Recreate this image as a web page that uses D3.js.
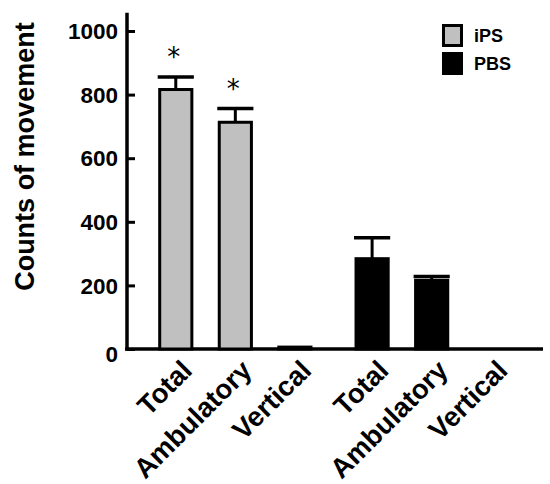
<!DOCTYPE html>
<html>
<head>
<meta charset="utf-8">
<script src="https://cdn.jsdelivr.net/npm/d3@7"></script>
<style>
  body { margin:0; background:#fff; }
  svg text { font-family: "Liberation Sans", Arial, sans-serif; }
</style>
</head>
<body>
<script>
const width = 550;
const height = 484;

const groups = ['iPS', 'PBS'];
const measures = ['Total', 'Ambulatory', 'Vertical'];
const ipsMeans = [816, 713, 6];
const ipsErrors = [39, 43, 0];
const pbsMeans = [284, 216, 0];
const pbsErrors = [66, 12, 0];
const significant = [true, true, false];
const yTicks = [0, 200, 400, 600, 800, 1000];
const fills = {iPS: '#c0c0c0', PBS: '#000'};

const rows = [];
measures.forEach((m, i) => rows.push({group: 'iPS', measure: m, mean: ipsMeans[i], err: ipsErrors[i], star: significant[i]}));
measures.forEach((m, i) => rows.push({group: 'PBS', measure: m, mean: pbsMeans[i], err: pbsErrors[i], star: false}));

const svg = d3.select('body').append('svg')
    .attr('width', width)
    .attr('height', height);

const y = d3.scaleLinear().domain([0, 1000]).range([349, 31]);
const x0 = d3.scaleBand().domain(groups).range([146, 521]).paddingInner(0.09);
const x1 = d3.scaleBand().domain(measures).range([0, x0.bandwidth()]).paddingInner(0.46).paddingOuter(0.23);
const cx = d => x0(d.group) + x1(d.measure);

// y axis, ticks point inward
const yAxis = d3.axisLeft(y).tickValues(yTicks).tickSize(-8).tickPadding(9).tickFormat(d3.format('d'));
const gy = svg.append('g').attr('transform', 'translate(127,0)').call(yAxis);
gy.select('.domain').remove();
gy.selectAll('.tick line').attr('stroke', '#000').attr('stroke-width', 3);
gy.selectAll('.tick text')
    .attr('fill', '#000')
    .style('font-size', '22.5px')
    .style('font-weight', 'bold')
    .attr('dy', d => d === 0 ? '0.55em' : '0.34em');

svg.append('line')
    .attr('x1', 127).attr('x2', 127)
    .attr('y1', y(0) + 1.5).attr('y2', y(1057))
    .attr('stroke', '#000').attr('stroke-width', 3.5);

svg.append('line')
    .attr('x1', 125).attr('x2', 543)
    .attr('y1', y(0)).attr('y2', y(0))
    .attr('stroke', '#000').attr('stroke-width', 3.5);

svg.append('text')
    .attr('transform', `translate(34,${y(605)}) rotate(-90)`)
    .attr('text-anchor', 'middle')
    .style('font-size', '27px')
    .style('font-weight', 'bold')
    .text('Counts of movement');

// error bars (upper only)
const eb = svg.selectAll('g.err').data(rows.filter(d => d.err > 0)).enter().append('g').attr('class', 'err');
eb.append('line')
    .attr('x1', d => cx(d) + x1.bandwidth() / 2).attr('x2', d => cx(d) + x1.bandwidth() / 2)
    .attr('y1', d => y(d.mean)).attr('y2', d => y(d.mean + d.err))
    .attr('stroke', '#000').attr('stroke-width', 3);
eb.append('line')
    .attr('x1', d => cx(d) - 2).attr('x2', d => cx(d) + x1.bandwidth() + 2)
    .attr('y1', d => y(d.mean + d.err)).attr('y2', d => y(d.mean + d.err))
    .attr('stroke', '#000').attr('stroke-width', 3.5);

// bars
svg.selectAll('rect.bar').data(rows.filter(d => d.mean > 0)).enter().append('rect')
    .attr('class', 'bar')
    .attr('x', d => cx(d))
    .attr('y', d => y(d.mean))
    .attr('width', x1.bandwidth())
    .attr('height', d => y(0) - y(d.mean))
    .attr('fill', d => fills[d.group])
    .attr('stroke', '#000')
    .attr('stroke-width', 3);

// asterisks
svg.selectAll('text.star').data(rows.filter(d => d.star)).enter().append('text')
    .attr('class', 'star')
    .attr('x', d => cx(d) + x1.bandwidth() / 2 - 2)
    .attr('y', d => y(d.mean + d.err) - 11)
    .attr('text-anchor', 'middle')
    .style('font-size', '26px')
    .style('font-family', '"DejaVu Sans", sans-serif')
    .text('*');

// category labels
svg.selectAll('text.cat').data(rows).enter().append('text')
    .attr('class', 'cat')
    .attr('transform', d => `translate(${cx(d) + x1.bandwidth() / 2 + 18},${y(0) + 23}) rotate(-45)`)
    .attr('text-anchor', 'end')
    .style('font-size', '27.5px')
    .style('font-weight', 'bold')
    .text(d => d.measure);

// legend
const leg = svg.append('g').attr('transform', 'translate(442,24)');
const li = leg.selectAll('g').data(groups).enter().append('g')
    .attr('transform', (d, i) => `translate(0,${i * 28})`);
li.append('rect')
    .attr('x', 1.5).attr('y', 1.5)
    .attr('width', 18).attr('height', 20)
    .attr('fill', d => fills[d])
    .attr('stroke', '#000').attr('stroke-width', 3);
li.append('text')
    .attr('x', 32).attr('y', 18)
    .style('font-size', '18px')
    .style('font-weight', 'bold')
    .text(d => d);
</script>
</body>
</html>
